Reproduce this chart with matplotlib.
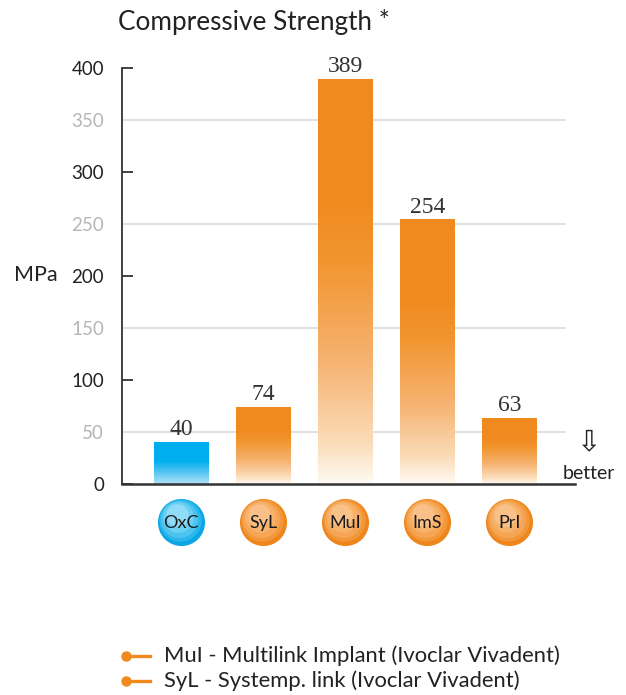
import numpy as np
import matplotlib.pyplot as plt
from matplotlib.colors import LinearSegmentedColormap
from matplotlib.lines import Line2D
import matplotlib.transforms as mtransforms

# data
labels = ['OxC', 'SyL', 'MuI', 'ImS', 'PrI']
values = [40, 74, 389, 254, 63]
kinds = ['blue', 'orange', 'orange', 'orange', 'orange']
legend_lines = ['MuI - Multilink Implant (Ivoclar Vivadent)',
                'SyL - Systemp. link (Ivoclar Vivadent)']
y_ticks = [0, 50, 100, 150, 200, 250, 300, 350, 400]

SANS = 'Lato'
SERIF = 'Liberation Serif'
ORANGE = '#f08a1f'
BLUE = '#00aeef'

fig = plt.figure(figsize=(6.26, 6.95), dpi=100)
ax = fig.add_axes([0.1949, 0.3036, 0.7236, 0.5986])

# bar gradients: solid at top, fading to near white at the bottom
cmaps = {
    'orange': LinearSegmentedColormap.from_list('o', [
        (0.0, '#fffaf4'), (0.1, '#fbdcb8'), (0.3, '#f6b372'),
        (0.55, '#f2952f'), (0.7, ORANGE), (1.0, ORANGE)]),
    'blue': LinearSegmentedColormap.from_list('b', [
        (0.0, '#b0e3f8'), (0.2, '#70cdf3'), (0.55, BLUE), (1.0, BLUE)]),
}
grad = np.linspace(0, 1, 256).reshape(-1, 1)
w = 0.66
for i, (v, k) in enumerate(zip(values, kinds)):
    ax.imshow(grad, cmap=cmaps[k], origin='lower', aspect='auto',
              extent=[i - w / 2, i + w / 2, 0, v], zorder=2)
    ax.text(i, v + 2, str(v), ha='center', va='bottom', fontsize=17,
            family=SERIF, color='#333333', zorder=3)

ax.set_xlim(-0.72, 4.80)
ax.set_ylim(0, 400)

# gridlines only at the odd fifties
for y in y_ticks:
    if y % 100 == 50:
        ax.axhline(y, xmin=0.004, xmax=0.978, color='#dcdcdc', lw=1.2, zorder=1)

ax.set_yticks(y_ticks)
ax.set_yticklabels([str(t) for t in y_ticks], family=SANS, fontsize=13.5)
for t, lab in zip(y_ticks, ax.get_yticklabels()):
    lab.set_color('#222222' if t % 100 == 0 else '#b5b5b5')
ax.tick_params(axis='y', direction='in', length=8, width=1.3, color='#333333', pad=13)
for tl in ax.yaxis.get_major_ticks():
    if tl.get_loc() % 100 != 0:
        tl.tick1line.set_visible(False)
ax.set_xticks([])

for s in ['top', 'right']:
    ax.spines[s].set_visible(False)
ax.spines['left'].set_color('#333333')
ax.spines['left'].set_linewidth(1.3)
ax.spines['bottom'].set_color('#333333')
ax.spines['bottom'].set_linewidth(1.8)

# spheres under the bars
trans = mtransforms.blended_transform_factory(ax.transData, ax.transAxes)
xs = np.arange(len(labels))
sphere_cols = {
    'orange': ['#ee861c', '#f2973a', '#f5a553', '#f7b26a', '#f9c088'],
    'blue': ['#0da6e4', '#2bb6ec', '#4cc4f0', '#6cd0f4', '#90dcf7'],
}
sizes = [1150, 930, 720, 490, 260]
for x, k in zip(xs, kinds):
    for j, (s, c) in enumerate(zip(sizes, sphere_cols[k])):
        dy = 0.004 * j
        ax.scatter([x - 0.012 * j], [-0.091 + dy], s=s, color=c, transform=trans,
                   clip_on=False, zorder=5, linewidths=0)
for x, lab in zip(xs, labels):
    ax.text(x, -0.093, lab, transform=trans, ha='center', va='center',
            fontsize=13, family=SANS, color='#1a1a1a', zorder=6, clip_on=False)

# texts
fig.text(0.188, 0.968, 'Compressive Strength *', family=SANS, fontsize=18.8,
         color='#222222', va='center', ha='left')
fig.text(0.022, 0.604, 'MPa', family=SANS, fontsize=15.5, color='#222222', va='center')
fig.text(0.940, 0.318, 'better', family=SANS, fontsize=14, color='#222222', va='center', ha='center')
fig.text(0.939, 0.364, '\u21e9', family='DejaVu Sans', fontsize=21, color='#222222',
         va='center', ha='center')

# legend lines at the bottom
for n, txt in enumerate(legend_lines):
    yy = 0.056 - n * 0.036
    fig.add_artist(Line2D([0.199, 0.240], [yy, yy], color=ORANGE, lw=2.4))
    fig.add_artist(Line2D([0.201], [yy], marker='o', ms=6.5, color=ORANGE))
    fig.text(0.262, yy, txt, family=SANS, fontsize=15.8, color='#222222', va='center')

fig.savefig('out.png', dpi=100)
